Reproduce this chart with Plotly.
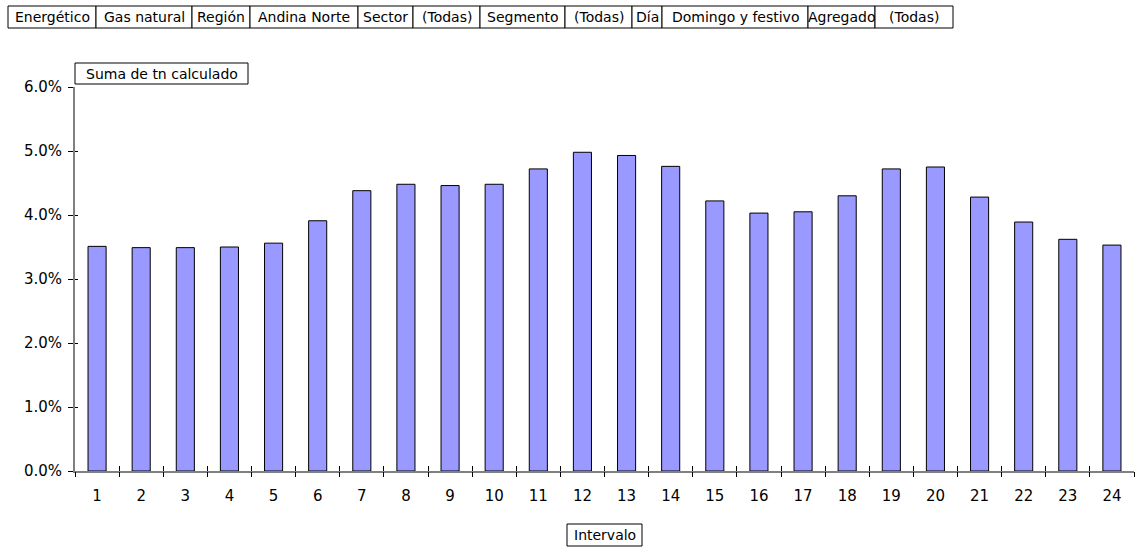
import plotly.graph_objects as go

intervals = list(range(1, 25))
values = [3.51, 3.49, 3.49, 3.50, 3.56, 3.91, 4.38, 4.48, 4.46, 4.48, 4.72, 4.98,
          4.93, 4.76, 4.22, 4.03, 4.05, 4.30, 4.72, 4.75, 4.28, 3.89, 3.62, 3.53]
shares = [v / 100 for v in values]

filter_labels = ["Energético", "Gas natural", "Región", "Andina Norte", "Sector", "(Todas)",
                 "Segmento", "(Todas)", "Día", "Domingo y festivo", "Agregado", "(Todas)"]
filter_edges = [8, 96, 192, 250, 358, 413, 480, 565, 632, 662, 808, 875, 953]

W, H = 1135, 548
L, R, T, B = 75, 1, 87, 77
pw, ph = W - L - R, H - T - B

def px(x):
    return (x - L) / pw

def py(y):
    return (H - B - y) / ph

FONT = "DejaVu Sans"
FS = 15
BFS = 14
AX = "#808080"

fig = go.Figure()
fig.add_trace(go.Bar(
    x=intervals, y=shares,
    marker=dict(color="#9999FF", line=dict(color="#000000", width=1)),
    width=0.41, hoverinfo="x+y",
))

bounds = [i - 0.5 for i in intervals] + [intervals[-1] + 0.5]
xr = [bounds[0], bounds[-1]]

fig.update_layout(
    width=W, height=H,
    margin=dict(l=L, r=R, t=T, b=B, pad=0),
    paper_bgcolor="white", plot_bgcolor="white",
    showlegend=False,
    font=dict(family=FONT, size=FS, color="#000000"),
    xaxis=dict(range=xr, tickvals=intervals, ticktext=[str(i) for i in intervals],
               ticks="", showgrid=False, zeroline=False, showline=True,
               linecolor=AX, linewidth=2, ticklabelstandoff=10,
               tickfont=dict(family=FONT, size=FS, color="#000000")),
    xaxis2=dict(range=xr, overlaying="x", tickvals=bounds, ticks="outside", ticklen=5,
                tickcolor="#000000", tickwidth=1, showticklabels=False, showgrid=False,
                zeroline=False, showline=False, anchor="y"),
    xaxis3=dict(range=xr, overlaying="x", tickvals=bounds, ticks="inside", ticklen=5,
                tickcolor="#000000", tickwidth=1, showticklabels=False, showgrid=False,
                zeroline=False, showline=False, anchor="y"),
    yaxis=dict(range=[0, 0.06], dtick=0.01, tickformat=".1%", ticks="outside",
               ticklen=5, tickcolor="#000000", tickwidth=1, showgrid=False, zeroline=False,
               showline=True, linecolor=AX, linewidth=2, ticklabelstandoff=3,
               tickfont=dict(family=FONT, size=FS, color="#000000")),
    yaxis2=dict(range=[0, 0.06], dtick=0.01, overlaying="y", ticks="inside", ticklen=3,
                tickcolor="#000000", tickwidth=1, showticklabels=False, showgrid=False,
                zeroline=False, showline=False, anchor="x"),
)

fig.add_trace(go.Scatter(x=[xr[0]], y=[0], xaxis="x2", yaxis="y2", mode="markers",
                         marker=dict(opacity=0), hoverinfo="skip"))
fig.add_trace(go.Scatter(x=[xr[0]], y=[0], xaxis="x3", yaxis="y", mode="markers",
                         marker=dict(opacity=0), hoverinfo="skip"))

shapes = []
annots = []

for i, lab in enumerate(filter_labels):
    x0, x1 = filter_edges[i], filter_edges[i + 1]
    shapes.append(dict(type="rect", xref="paper", yref="paper",
                       x0=px(x0), x1=px(x1), y0=py(28), y1=py(6),
                       line=dict(color="#000000", width=1), fillcolor="white", layer="above"))
    annots.append(dict(text=lab, xref="paper", yref="paper", x=px((x0 + x1) / 2), y=py(17),
                       showarrow=False, xanchor="center", yanchor="middle",
                       font=dict(family=FONT, size=BFS, color="#000000")))

shapes.append(dict(type="rect", xref="paper", yref="paper", x0=px(75), x1=px(248),
                   y0=py(84), y1=py(63), line=dict(color="#000000", width=1),
                   fillcolor="white", layer="above"))
annots.append(dict(text="Suma de tn calculado", xref="paper", yref="paper",
                   x=px(161.5), y=py(73.5), showarrow=False, xanchor="center",
                   yanchor="middle", font=dict(family=FONT, size=BFS, color="#000000")))

shapes.append(dict(type="rect", xref="paper", yref="paper", x0=px(567), x1=px(642),
                   y0=py(546), y1=py(524), line=dict(color="#000000", width=1),
                   fillcolor="white", layer="above"))
annots.append(dict(text="Intervalo", xref="paper", yref="paper",
                   x=px(604.5), y=py(535), showarrow=False, xanchor="center",
                   yanchor="middle", font=dict(family=FONT, size=BFS, color="#000000")))

fig.update_layout(shapes=shapes, annotations=annots)
fig.write_html("out.html", config={"displayModeBar": False},
               post_script="document.body.style.margin='0';document.body.style.overflow='hidden';")
